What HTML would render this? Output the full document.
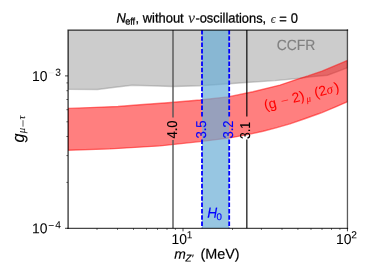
<!DOCTYPE html>
<html>
<head>
<meta charset="utf-8">
<title>Neff without nu-oscillations</title>
<style>
  html, body { margin: 0; padding: 0; background: #ffffff; }
  body { width: 374px; height: 280px; overflow: hidden; font-family: "Liberation Sans", sans-serif; }
  svg { display: block; will-change: transform; }
  text { font-family: "Liberation Sans", sans-serif; text-rendering: geometricPrecision; stroke-width: 0.15px; }
  .g { font-family: "Liberation Serif", serif; font-style: italic; stroke-width: 0.1px; }
  .i { font-style: italic; }
  .cl text { stroke-width: 0.12px; }
  .sup { stroke-width: 0.05px; }
  .tl text { stroke-width: 0.05px; }
  .rd text { stroke-width: 0.05px; }
  .ti text { stroke-width: 0.25px; }
  .ti text.g { stroke-width: 0.05px; }
</style>
</head>
<body>
<svg width="374" height="280" viewBox="0 0 374 280">
  <rect x="0" y="0" width="374" height="280" fill="#ffffff"/>
  <defs>
    <clipPath id="ax"><rect x="68" y="30" width="279.45" height="198.3"/></clipPath>
  </defs>

  <g clip-path="url(#ax)">
    <!-- CCFR grey region -->
    <path d="M68,20 L68,89.3 L97.5,89.5 L115,87.3 L132,85.2 L150,85.8 L173,86.5 L200,85.7 L229,83.8 L246,82.5 L275,80.6 L300,78.2 L311,76.8 L327.5,75.2 L338,71.3 L347.5,67.7 L347.5,20 Z"
          fill="#808080" fill-opacity="0.4" stroke="#808080" stroke-opacity="0.4" stroke-width="1.4"/>
    <!-- (g-2) band -->
    <path d="M68,108.4 L90,107.6 L118,106.5 L140,104.8 L168,102.8 L200,100 L228,96.9 L253,91.7 L280,85.1 L297,79.3 L308,75.9 L322,71.2 L347.5,60.4
             L347.5,101.7 L335,107.2 L322,112.6 L318,114 L304,119 L290,123.8 L276,127.8 L263,131.3 L250,134.1 L230,137.9 L200,141.6 L160,145.9 L110,148.9 L68,150.3 Z"
          fill="#ff0000" fill-opacity="0.5" stroke="#ff0000" stroke-opacity="0.5" stroke-width="1.4"/>
    <!-- H0 band -->
    <rect x="202" y="20" width="27.2" height="220" fill="#6baed6" fill-opacity="0.7"/>
  </g>

  <!-- contour lines -->
  <g fill="none">
    <path d="M173,30 V117.4 M173,139.9 V228.3" stroke="#555555" stroke-width="1.4"/>
    <path d="M246.85,30 V116.6 M246.85,139.4 V228.3" stroke="#000000" stroke-width="1.15"/>
    <path d="M202,30 V117.4 M202,139.6 V228.3" stroke="#0000ff" stroke-width="1.8" stroke-dasharray="4.5,1.8"/>
    <path d="M229.2,30 V117.4 M229.2,139.6 V228.3" stroke="#0000ff" stroke-width="1.8" stroke-dasharray="4.5,1.8"/>
  </g>

  <!-- contour labels -->
  <g font-size="13px" text-anchor="middle" class="cl">
    <text transform="translate(176.8,129.5) rotate(-90) scale(1,1.1)" fill="#000000" stroke="#000000">4.0</text>
    <text transform="translate(205.6,129.5) rotate(-90) scale(1,1.1)" fill="#0000ff" stroke="#0000ff">3.5</text>
    <text transform="translate(232.7,129.5) rotate(-90) scale(1,1.1)" fill="#0000ff" stroke="#0000ff">3.2</text>
    <text transform="translate(249.9,130.4) rotate(-90) scale(0.94,1.1)" fill="#000000" stroke="#000000">3.1</text>
  </g>

  <!-- axes spines -->
  <g fill="none" stroke="#000000" stroke-width="1.3">
    <path d="M68.1,29.4 V229 M67.4,30.05 H348.1" stroke-opacity="0.8"/>
    <path d="M67.4,228.4 H348.1" stroke-opacity="0.72"/>
    <path d="M347.45,29.4 V229" stroke-opacity="0.64"/>
  </g>

  <!-- ticks -->
  <g stroke="#000000" stroke-opacity="0.75" stroke-width="1" fill="none">
    <path d="M183,228.3 v3 M347.45,228.3 v3"/>
    <path d="M68,228.3 h-3 M68,75.9 h-3"/>
  </g>
  <g stroke="#000000" stroke-opacity="0.75" stroke-width="0.8" fill="none">
    <path d="M97.0,228.3 v1.6 M117.5,228.3 v1.6 M133.5,228.3 v1.6 M146.5,228.3 v1.6 M157.5,228.3 v1.6 M167.0,228.3 v1.6 M175.4,228.3 v1.6 M232.5,228.3 v1.6 M261.4,228.3 v1.6 M282.0,228.3 v1.6 M297.9,228.3 v1.6 M311.0,228.3 v1.6 M322.0,228.3 v1.6 M331.5,228.3 v1.6 M339.9,228.3 v1.6"/>
    <path d="M68,182.4 h-1.6 M68,155.6 h-1.6 M68,136.5 h-1.6 M68,121.8 h-1.6 M68,109.7 h-1.6 M68,99.5 h-1.6 M68,90.7 h-1.6 M68,82.9 h-1.6"/>
  </g>

  <!-- tick labels -->
  <g font-size="13.9px" fill="#000000" class="tl">
    <text transform="translate(32,81) rotate(0.04) scale(1,1.03)" fill="#000000" stroke="#000000">10</text>
    <text transform="translate(48.2,76.3) rotate(0.04)" font-size="10.2px" class="sup" fill="#e4e4e4" stroke="#e4e4e4">−</text>
    <text transform="translate(55.2,75.7) rotate(0.04)" font-size="10.2px" class="sup" fill="#000000" stroke="#000000">3</text>
    <text transform="translate(32,233.2) rotate(0.04) scale(1,1.03)" fill="#000000" stroke="#000000">10</text>
    <text transform="translate(48.2,228.9) rotate(0.04)" font-size="10.2px" class="sup" fill="#000000" stroke="#000000">−</text>
    <text transform="translate(55.2,228.3) rotate(0.04)" font-size="10.2px" class="sup" fill="#000000" stroke="#000000">4</text>
    <text transform="translate(171.5,244) rotate(0.04) scale(1,1.03)" fill="#000000" stroke="#000000">10</text>
    <text transform="translate(186.8,238.2) rotate(0.04)" font-size="10.2px" class="sup" fill="#000000" stroke="#000000">1</text>
    <text transform="translate(336,244) rotate(0.04) scale(1,1.03)" fill="#000000" stroke="#000000">10</text>
    <text transform="translate(351.2,238.3) rotate(0.04)" font-size="10.2px" class="sup" fill="#000000" stroke="#000000">2</text>
  </g>

  <!-- title -->
  <g font-size="12.9px" fill="#000000" class="ti">
    <text transform="translate(116.4,22.6) rotate(0.04) scale(1,1.05)" class="i" fill="#000000" stroke="#000000">N</text>
    <text transform="translate(125.2,24.5) rotate(0.04) scale(1,1.05)" font-size="9.1px" fill="#000000" stroke="#000000">eff</text>
    <text transform="translate(135.5,22.6) rotate(0.04)" fill="#000000" stroke="#000000">,</text>
    <text transform="translate(142.7,22.6) rotate(0.04) scale(1,1.05)" fill="#000000" stroke="#000000" textLength="41" lengthAdjust="spacingAndGlyphs">without</text>
    <text transform="translate(188.2,22.700000000000003) rotate(0.04)" font-size="15px" class="g" fill="#222222" stroke="#222222">ν</text>
    <text transform="translate(195.4,22.6) rotate(0.04) scale(1,1.05)" fill="#000000" stroke="#000000" textLength="70.8" lengthAdjust="spacingAndGlyphs">-oscillations,</text>
    <text transform="translate(270.8,22.700000000000003) rotate(0.04)" font-size="12px" class="g" fill="#333333" stroke="#333333">ϵ</text>
    <text transform="translate(279.2,23.6) rotate(0.04) scale(1,1.05)" fill="#000000" stroke="#000000">=</text>
    <text transform="translate(290.8,22.8) rotate(0.04) scale(1,1.06)" fill="#000000" stroke="#000000">0</text>
  </g>

  <!-- x label -->
  <g font-size="13.9px" fill="#000000">
    <text transform="translate(174.3,258.8) rotate(0.04)" class="i" fill="#000000" stroke="#000000">m</text>
    <text transform="translate(185.6,261.4) rotate(0.04)" font-size="9.7px" class="i" fill="#000000" stroke="#000000">Z′</text>
    <text transform="translate(200.4,258.8) rotate(0.04) scale(1.035,1.03)" fill="#000000" stroke="#000000">(MeV)</text>
  </g>

  <!-- y label -->
  <g fill="#000000">
    <text transform="translate(23.9,142.5) rotate(-90) scale(1,1.04)" font-size="16.2px" class="i" fill="#000000" stroke="#000000">g</text>
    <text transform="translate(25.3,133.2) rotate(-90)" font-size="10.8px" class="g" fill="#222222" stroke="#222222">μ</text>
    <path d="M23,126.7 V120.2" stroke="#333333" stroke-width="0.8" fill="none"/>
    <text transform="translate(25.3,119.5) rotate(-90)" font-size="10.8px" class="g" fill="#222222" stroke="#222222">τ</text>
  </g>

  <!-- annotations -->
    <text transform="translate(276.8,49.9) rotate(0.04) scale(1,1.06)" font-size="13.9px" fill="#808080" stroke="#808080">CCFR</text>
  <g fill="#ff0000" stroke="#ff0000" font-size="13.9px" class="rd">
    <g transform="translate(265.2,110.1) rotate(-14.2)">
      <text x="0" y="0">(g</text>
      <text x="17.2" y="0.3" fill-opacity="0.75" stroke="none" transform="translate(0,-1.2) scale(1,0.75)">−</text>
      <text x="29.0" y="0">2)</text>
      <text x="42.4" y="2.6" class="g" font-size="9.2px">μ</text>
      <text x="51.8" y="0">(2</text>
      <text x="64.2" y="0" class="g" font-size="12.8px" stroke="none">σ</text>
      <text x="72.6" y="0">)</text>
    </g>
  </g>
  <g fill="#0000ff">
    <text transform="translate(207.2,217.8) rotate(0.04) scale(1,1.05)" font-size="13.7px" class="i" fill="#0000ff" stroke="#0000ff">H</text>
    <text transform="translate(216.6,220.1) rotate(0.04)" font-size="9.7px" fill="#0000ff" stroke="#0000ff">0</text>
  </g>
</svg>
</body>
</html>
